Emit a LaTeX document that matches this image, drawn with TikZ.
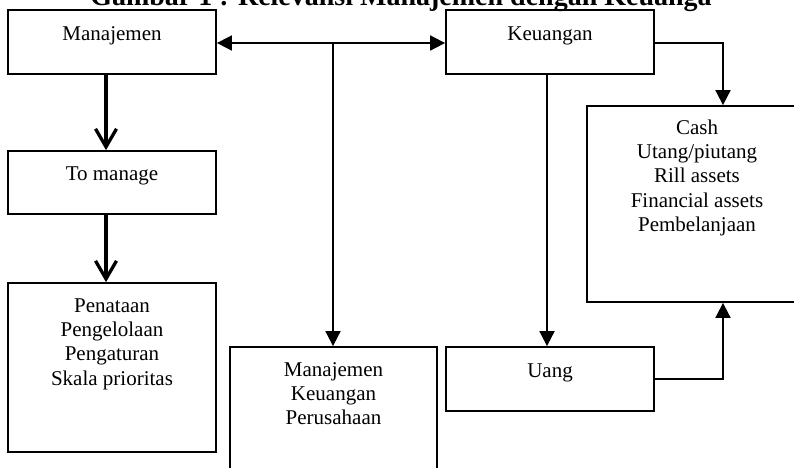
\documentclass[tikz,border=0pt]{standalone}
\usepackage{fontspec}
\setmainfont{Liberation Serif}
\usetikzlibrary{arrows.meta}
\begin{document}
\begin{tikzpicture}[x=1pt,y=-1pt,
  boxnode/.style={draw, line width=1.8pt, inner sep=0pt},
  lbl/.style={anchor=base, inner sep=0pt, font=\fontsize{21}{24.4}\selectfont},
  tri/.style={line width=1.8pt, -{Triangle[length=15pt,width=15pt]}},
  dtri/.style={line width=1.8pt, {Triangle[length=15pt,width=15pt]}-{Triangle[length=15pt,width=15pt]}},
  barb/.style={line width=3.3pt, -{Straight Barb[length=18pt,width=21pt]}},
  plain/.style={line width=1.8pt}]
\fill[white] (0,0) rectangle (794,467);
\useasboundingbox (0,0) rectangle (794,467);

% title (top part cut off by the page)
\node[anchor=base, inner sep=0pt, font=\bfseries\fontsize{28}{30}\selectfont] (title) at (401,5.5) {Gambar 1 : Relevansi Manajemen dengan Keuanga};

% boxes
\node[boxnode, minimum width=208pt, minimum height=64pt] (m) at (112,42) {};
\node[boxnode, minimum width=208pt, minimum height=64pt] (k) at (550,42) {};
\node[boxnode, minimum width=208pt, minimum height=63pt] (tm) at (112,182.5) {};
\node[boxnode, minimum width=208pt, minimum height=169pt] (pen) at (112,367.5) {};
\node[boxnode, minimum width=207pt, minimum height=143pt] (mkp) at (333.5,418.5) {};
\node[boxnode, minimum width=208pt, minimum height=64pt] (u) at (550,379) {};
\node[boxnode, minimum width=220pt, minimum height=196pt] (cash) at (697,204) {};

% texts
\node[lbl] (mtx) at ([yshift=-31pt]m.north) {Manajemen};
\node[lbl] (ktx) at ([yshift=-31pt]k.north) {Keuangan};
\node[lbl] (tmtx) at ([yshift=-30pt]tm.north) {To manage};
\node[lbl] (pentx) at ([yshift=-30pt]pen.north) {\begin{tabular}[t]{@{}c@{}}Penataan\\Pengelolaan\\Pengaturan\\Skala prioritas\end{tabular}};
\node[lbl] (mkptx) at ([yshift=-30pt]mkp.north) {\begin{tabular}[t]{@{}c@{}}Manajemen\\Keuangan\\Perusahaan\end{tabular}};
\node[lbl] (utx) at ([yshift=-31pt]u.north) {Uang};
\node[lbl] (cashtx) at ([yshift=-29pt]cash.north) {\begin{tabular}[t]{@{}c@{}}Cash\\Utang/piutang\\Rill assets\\Financial assets\\Pembelanjaan\end{tabular}};

% connectors
\draw[dtri] ([yshift=-1pt]m.east) -- ([yshift=-1pt]k.west);
\coordinate (j) at (333,43);
\draw[tri] (j) -- (j |- mkp.north);
\draw[tri] ([xshift=-3pt]k.south) -- ([xshift=-3pt]u.north);
\draw[tri] ([yshift=-1pt]k.east) -| ([xshift=26pt]cash.north);
\draw[tri] (u.east) -| ([xshift=26pt]cash.south);
\draw[barb] ([xshift=-6pt]m.south) -- ([xshift=-6pt]tm.north);
\draw[barb] ([xshift=-6pt]tm.south) -- ([xshift=-6pt]pen.north);
\end{tikzpicture}
\end{document}
